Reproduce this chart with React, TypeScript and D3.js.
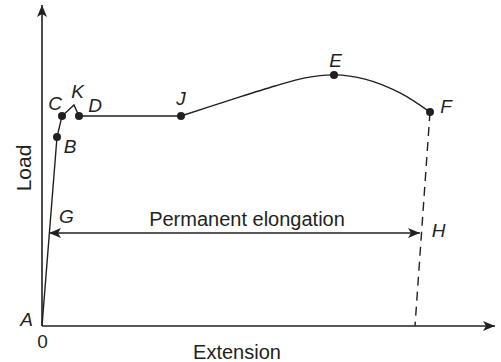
import React, { useEffect, useRef } from 'react'
import * as d3 from 'd3'

// load-extension curve, arbitrary units
const elasticPart = [
  { ext: 0, load: 0 },
  { ext: 3.75, load: 63 },
  { ext: 5, load: 70 },
  { ext: 8, load: 73.7 },
  { ext: 9.25, load: 70 },
  { ext: 34.75, load: 70 }
]
const plasticPart = [
  { ext: 34.75, load: 70 },
  { ext: 47, load: 75.3 },
  { ext: 58.25, load: 80 },
  { ext: 65.75, load: 82.7 },
  { ext: 73, load: 83.7 },
  { ext: 80.75, load: 82.3 },
  { ext: 89.5, load: 77.7 },
  { ext: 97, load: 71.3 }
]
const markedPoints = [
  { name: 'B', ext: 3.75, load: 63, dx: 13, dy: 16 },
  { name: 'C', ext: 5, load: 70, dx: -7, dy: -6 },
  { name: 'K', ext: 8, load: 73.7, dx: 3.5, dy: -7, noDot: true },
  { name: 'D', ext: 9.25, load: 70, dx: 16, dy: -4 },
  { name: 'J', ext: 34.75, load: 70, dx: 0, dy: -11 },
  { name: 'E', ext: 73, load: 83.7, dx: 1.5, dy: -8 },
  { name: 'F', ext: 97, load: 71.3, dx: 16, dy: 1 }
]
const unloadLine = [
  { ext: 97, load: 71.3 },
  { ext: 93.25, load: 0 }
]
const elongation = { from: 1.75, to: 94.5, load: 31 }

export default function App() {
  const ref = useRef<SVGSVGElement>(null)

  useEffect(() => {
    const svg = d3.select(ref.current)
    svg.selectAll('*').remove()

    const x = d3.scaleLinear().domain([0, 100]).range([42, 442])
    const y = d3.scaleLinear().domain([0, 100]).range([326, 26])
    const ink = '#231f20'
    const font = "'Liberation Sans', Arial, sans-serif"

    const defs = svg.append('defs')
    defs.append('marker')
      .attr('id', 'head')
      .attr('viewBox', '0 0 12 10')
      .attr('refX', 12).attr('refY', 5)
      .attr('markerWidth', 12).attr('markerHeight', 10)
      .attr('markerUnits', 'userSpaceOnUse')
      .attr('orient', 'auto-start-reverse')
      .append('path')
      .attr('d', 'M0,0 L12,5 L0,10 L3,5 Z')
      .attr('fill', ink)

    // axes
    svg.append('line')
      .attr('x1', x(0)).attr('y1', y(0)).attr('x2', x(0)).attr('y2', 5)
      .attr('stroke', ink).attr('stroke-width', 1.6)
      .attr('marker-end', 'url(#head)')
    svg.append('line')
      .attr('x1', x(0)).attr('y1', y(0)).attr('x2', 495).attr('y2', y(0))
      .attr('stroke', ink).attr('stroke-width', 1.6)
      .attr('marker-end', 'url(#head)')

    const line = d3.line<{ ext: number; load: number }>()
      .x(d => x(d.ext)).y(d => y(d.load))

    svg.append('path')
      .attr('d', line(elasticPart))
      .attr('fill', 'none').attr('stroke', ink).attr('stroke-width', 1.4)
    svg.append('path')
      .attr('d', d3.line<{ ext: number; load: number }>()
        .x(d => x(d.ext)).y(d => y(d.load))
        .curve(d3.curveCatmullRom)(plasticPart))
      .attr('fill', 'none').attr('stroke', ink).attr('stroke-width', 1.4)
    svg.append('path')
      .attr('d', line(unloadLine))
      .attr('fill', 'none').attr('stroke', ink).attr('stroke-width', 1.4)
      .attr('stroke-dasharray', '9,6')

    // permanent elongation arrow
    svg.append('line')
      .attr('x1', x(elongation.from)).attr('x2', x(elongation.to))
      .attr('y1', y(elongation.load)).attr('y2', y(elongation.load))
      .attr('stroke', ink).attr('stroke-width', 1.3)
      .attr('marker-start', 'url(#head)').attr('marker-end', 'url(#head)')

    svg.selectAll('circle.pt')
      .data(markedPoints.filter(d => !d.noDot))
      .enter().append('circle')
      .attr('class', 'pt')
      .attr('cx', d => x(d.ext)).attr('cy', d => y(d.load))
      .attr('r', 4).attr('fill', ink)

    const label = (t: string, px: number, py: number, italic = true) =>
      svg.append('text')
        .attr('x', px).attr('y', py)
        .attr('text-anchor', 'middle')
        .attr('font-family', font)
        .attr('font-size', 19)
        .attr('font-style', italic ? 'italic' : 'normal')
        .attr('fill', ink)
        .text(t)

    markedPoints.forEach(d => label(d.name, x(d.ext) + d.dx, y(d.load) + d.dy))
    label('A', 26.5, 326)
    label('G', 66.5, 223)
    label('H', 438.5, 237)
    label('0', 42.5, 348, false)

    svg.append('text')
      .attr('x', 247).attr('y', 226)
      .attr('text-anchor', 'middle')
      .attr('font-family', font).attr('font-size', 20)
      .attr('fill', ink)
      .text('Permanent elongation')
    svg.append('text')
      .attr('x', 237).attr('y', 359)
      .attr('text-anchor', 'middle')
      .attr('font-family', font).attr('font-size', 20)
      .attr('fill', ink)
      .text('Extension')
    svg.append('text')
      .attr('transform', 'translate(31,168) rotate(-90)')
      .attr('text-anchor', 'middle')
      .attr('font-family', font).attr('font-size', 21)
      .attr('fill', ink)
      .text('Load')
  }, [])

  return (
    <svg
      ref={ref}
      width={501}
      height={362}
      style={{ position: 'absolute', left: 0, top: 0, background: '#fff' }}
    />
  )
}
